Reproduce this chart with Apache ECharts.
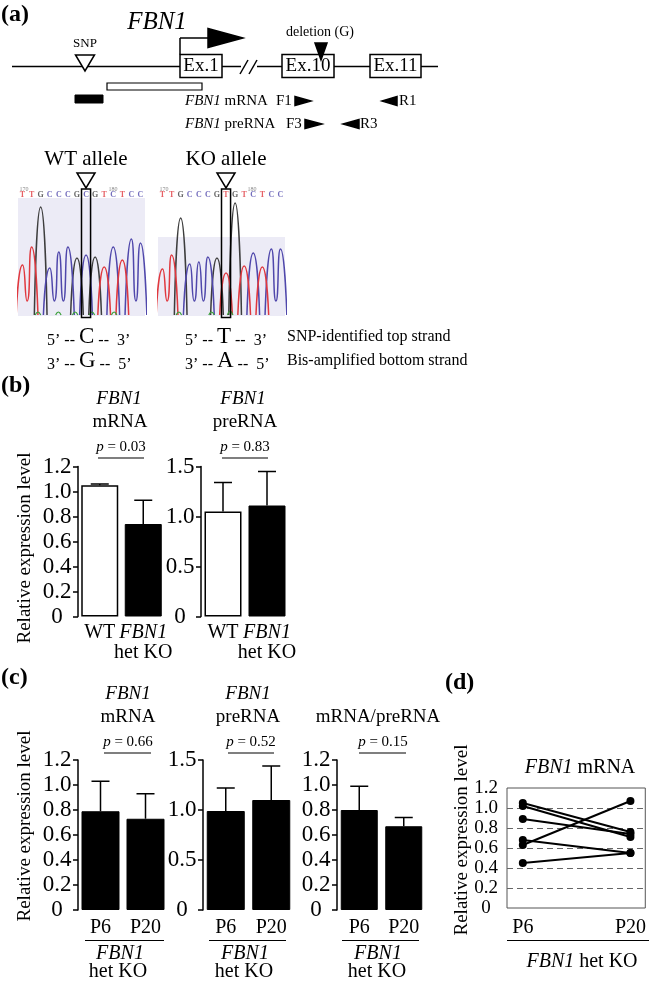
<!DOCTYPE html>
<html><head><meta charset="utf-8">
<script src="https://cdn.jsdelivr.net/npm/echarts@6.0.0/dist/echarts.min.js"></script>
<style>html,body{margin:0;padding:0;background:#fff;}#chart{width:649px;height:982px;}</style>
</head><body><div id="chart"></div>
<script>
const FONT = '"Liberation Serif","Times New Roman",serif';

// ---------- Panel (b) data ----------
const bCats = ['WT', 'FBN1 het KO'];
const bMrnaMean = [1.05, 0.74];
const bMrnaUpper = [1.06, 0.93];
const bPreMean = [1.05, 1.11];
const bPreUpper = [1.34, 1.45];
const bPValues = ['0.03', '0.83'];

// ---------- Panel (c) data ----------
const cCats = ['P6', 'P20'];
const cMrnaMean = [0.79, 0.73];
const cMrnaUpper = [1.03, 0.93];
const cPreMean = [0.99, 1.10];
const cPreUpper = [1.22, 1.44];
const cRatioMean = [0.80, 0.67];
const cRatioUpper = [0.99, 0.74];
const cPValues = ['0.66', '0.52', '0.15'];

// ---------- Panel (d) data ----------
const dCats = ['P6', 'P20'];
const dP6  = [1.05, 1.02, 0.89, 0.63, 0.68, 0.45];
const dP20 = [0.76, 0.71, 0.74, 1.07, 0.55, 0.55];

// ---------- Panel (a) chromatogram data (peak heights, relative units) ----------
const wtBases   = ['T','T','G','C','C','C','G','C','G','T','C','T','C','C'];
const wtHeights = [50, 68, 108, 47, 63, 68, 57, 60, 58, 48, 68, 55, 76, 72];
const wtBgTop = 117;
const wtNoise = [[1.7, 3], [3.95, 3], [5.8, 3], [7.65, 3], [10.1, 3]];
const koBases   = ['T','T','G','C','C','C','G','T','G','T','C','T','C','C'];
const koHeights = [46, 60, 97, 51, 53, 58, 57, 42, 112, 49, 62, 48, 66, 66];
const koBgTop = 78;
const koNoise = [[1.8, 3], [5.4, 3], [7.45, 4]];
const sameColorValley = 14;
const snpIndex = 7;

const BASE_COLORS = {T: '#e0383e', C: '#4f47ab', G: '#3d3d3d'};
const NOISE_COLOR = '#3aa03a';

const chart = echarts.init(document.getElementById('chart'), null, {renderer: 'canvas'});

// ---------- helpers ----------
function errRender(params, api) {
  const x = api.value(0), m = api.value(1), u = api.value(2);
  const p0 = api.coord([x, m]);
  const p1 = api.coord([x, u]);
  const st = {stroke: '#000', lineWidth: 1.5};
  return {type: 'group', children: [
    {type: 'line', shape: {x1: p0[0], y1: p0[1], x2: p1[0], y2: p1[1]}, style: st},
    {type: 'line', shape: {x1: p1[0] - 9, y1: p1[1], x2: p1[0] + 9, y2: p1[1]}, style: st}
  ]};
}
function errSeries(gi, mean, upper) {
  return {type: 'custom', xAxisIndex: gi, yAxisIndex: gi, renderItem: errRender, z: 5,
    data: mean.map((m, i) => [i, m, upper[i]]), encode: {x: 0, y: [1, 2]}};
}
function barSeries(gi, vals, white, bw) {
  return {type: 'bar', xAxisIndex: gi, yAxisIndex: gi, barWidth: bw,
    data: vals.map((v, i) => ({value: v, itemStyle: (white && i === 0)
      ? {color: '#fff', borderColor: '#000', borderWidth: 1.5}
      : {color: '#000', borderColor: '#000', borderWidth: 1}}))};
}
function yAx(gi, max, interval) {
  return {type: 'value', gridIndex: gi, min: 0, max: max, interval: interval,
    axisLine: {show: true, lineStyle: {color: '#000', width: 1.5}},
    axisTick: {show: true, length: 5, lineStyle: {color: '#000', width: 1.5}},
    splitLine: {show: false},
    axisLabel: {color: '#000', fontFamily: FONT, fontSize: 23, align: 'center', margin: 21,
      formatter: v => v === 0 ? '0' : v.toFixed(1)}};
}
function xCat(gi, cats, fmt, margin) {
  return {type: 'category', gridIndex: gi, data: cats,
    axisLine: {show: false}, axisTick: {show: false},
    axisLabel: {color: '#000', fontFamily: FONT, fontSize: 20, lineHeight: 20, margin: margin,
      verticalAlign: 'top', interval: 0, formatter: fmt,
      rich: {i: {fontFamily: FONT, fontStyle: 'italic', fontSize: 20, lineHeight: 20, color: '#000'}}}};
}
function traceSeries(gi, bases, heights, noise, bgTop) {
  const out = [];
  ['G', 'C', 'T'].forEach(b => {
    const data = [];
    bases.forEach((bb, i) => {
      if (bb !== b) return;
      if (bases[i - 1] !== b) data.push([i - 0.7, 0]);
      data.push([i, heights[i]]);
      if (bases[i + 1] === b) data.push([i + 0.5, sameColorValley]);
      else data.push([i + 0.7, 0], [i + 0.7, '-']);
    });
    out.push({type: 'line', xAxisIndex: gi, yAxisIndex: gi, data: data, smooth: 0.7,
      showSymbol: false, symbol: 'none', connectNulls: false, z: 3, silent: true,
      lineStyle: {color: BASE_COLORS[b], width: 1.5}});
  });
  const nd = [];
  noise.forEach(([p, h]) => nd.push([p - 0.3, 0], [p, h], [p + 0.3, 0], [p + 0.3, '-']));
  out.push({type: 'line', xAxisIndex: gi, yAxisIndex: gi, data: nd, smooth: 0.5, showSymbol: false,
    symbol: 'none', z: 3, silent: true, lineStyle: {color: NOISE_COLOR, width: 1.2}});
  // background
  out.push({type: 'custom', xAxisIndex: gi, yAxisIndex: gi, z: 1, silent: true,
    data: [[bgTop]],
    renderItem: (p, api) => {
      const a = api.coord([-0.5, -1]), c = api.coord([bases.length - 0.5, api.value(0)]);
      return {type: 'rect', shape: {x: a[0], y: c[1], width: c[0] - a[0], height: a[1] - c[1]},
        style: {fill: '#ecebf6'}};
    }});
  // SNP box
  out.push({type: 'custom', xAxisIndex: gi, yAxisIndex: gi, z: 6, silent: true,
    data: [[snpIndex]],
    renderItem: (p, api) => {
      const i = api.value(0);
      const a = api.coord([i - 0.5, -2.5]), c = api.coord([i + 0.5, 126]);
      return {type: 'rect', shape: {x: a[0], y: c[1], width: c[0] - a[0], height: a[1] - c[1]},
        style: {fill: 'none', stroke: '#000', lineWidth: 1.5}};
    }});
  // base letters
  out.push({type: 'scatter', xAxisIndex: gi, yAxisIndex: gi, symbolSize: 1, z: 4, silent: true,
    itemStyle: {color: 'rgba(0,0,0,0)'},
    data: bases.map((b, i) => ({value: [i, 120], label: {color: BASE_COLORS[b]}})),
    label: {show: true, position: 'inside', fontFamily: FONT, fontWeight: 'bold', fontSize: 8,
      formatter: p => bases[p.dataIndex]}});
  return out;
}

// ---------- graphic helpers ----------
const L = (x1, y1, x2, y2, w) => ({type: 'line', silent: true, shape: {x1, y1, x2, y2}, style: {stroke: '#000', lineWidth: w || 1.5}});
const TX = (x, y, text, size, opts) => ({type: 'text', silent: true, x: x, y: y,
  style: Object.assign({text: text, font: size + 'px ' + FONT, fill: '#000', align: 'center', verticalAlign: 'middle',
    rich: {i: {font: 'italic ' + size + 'px ' + FONT, fill: '#000'}}}, opts || {})});
const RT = (x, y, text, size) => ({type: 'text', silent: true, x: x, y: y, rotation: Math.PI / 2,
  style: {text: text, font: size + 'px ' + FONT, fill: '#000', align: 'center', verticalAlign: 'middle'}});
const PG = (pts, fill, stroke) => ({type: 'polygon', silent: true, shape: {points: pts},
  style: {fill: fill, stroke: stroke || fill, lineWidth: 1.5}});
const RC = (x, y, w, h, fill, lw) => ({type: 'rect', silent: true, shape: {x, y, width: w, height: h},
  style: {fill: fill, stroke: '#000', lineWidth: lw || 1.5}});

const strandRich = {
  n: {font: '16px ' + FONT, fill: '#000', verticalAlign: 'bottom', lineHeight: 23},
  b: {font: '23px ' + FONT, fill: '#000', verticalAlign: 'bottom', lineHeight: 23}
};
const ST = (x, y, text) => ({type: 'text', silent: true, x: x, y: y, style: {text: text, rich: strandRich, verticalAlign: 'middle'}});

const graphics = [
  // panel labels
  TX(1, 15, '(a)', 24, {align: 'left', font: 'bold 24px ' + FONT}),
  TX(1, 386, '(b)', 24, {align: 'left', font: 'bold 24px ' + FONT}),
  TX(1, 678, '(c)', 24, {align: 'left', font: 'bold 24px ' + FONT}),
  TX(445, 683, '(d)', 24, {align: 'left', font: 'bold 24px ' + FONT}),
  // gene diagram
  TX(157, 22, 'FBN1', 25, {font: 'italic 25px ' + FONT}),
  L(12, 66.5, 180, 66.5), L(222, 66.5, 241, 66.5), L(257, 66.5, 282, 66.5),
  L(334, 66.5, 370, 66.5), L(421, 66.5, 438, 66.5),
  L(240, 74, 248, 60), L(249, 74, 257, 60),
  RC(180, 54.5, 42, 23, '#fff'), RC(282, 54.5, 52, 23, '#fff'), RC(370, 54.5, 51, 23, '#fff'),
  TX(201, 66.5, 'Ex.1', 19), TX(308, 66.5, 'Ex.10', 19), TX(395.5, 66.5, 'Ex.11', 19),
  L(180, 54.5, 180, 38), L(180, 38, 210, 38),
  PG([[208, 28.5], [208, 47.5], [243, 38]], '#000'),
  PG([[75.5, 55], [94.5, 55], [85, 71]], '#fff', '#000'),
  TX(85, 44, 'SNP', 13),
  PG([[315, 43], [327, 43], [321, 60]], '#000'),
  TX(320, 32, 'deletion (G)', 14),
  RC(107, 83, 95, 7, '#fff', 1.2),
  RC(75, 95, 28, 8, '#000', 1),
  TX(185, 101, '{i|FBN1} mRNA', 15, {align: 'left'}),
  TX(276, 101, 'F1', 15, {align: 'left'}),
  PG([[295, 96.5], [295, 105.5], [311, 101]], '#000'),
  PG([[397, 96.5], [397, 105.5], [382, 101]], '#000'),
  TX(399, 101, 'R1', 15, {align: 'left'}),
  TX(185, 124, '{i|FBN1} preRNA', 15, {align: 'left'}),
  TX(286, 124, 'F3', 15, {align: 'left'}),
  PG([[305, 119.5], [305, 128.5], [322, 124]], '#000'),
  PG([[359, 119.5], [359, 128.5], [343, 124]], '#000'),
  TX(360, 124, 'R3', 15, {align: 'left'}),
  // chromatogram headers
  TX(86, 159, 'WT allele', 21), TX(226, 159, 'KO allele', 21),
  PG([[77, 173], [95, 173], [86, 188]], '#fff', '#000'),
  PG([[217, 173], [235, 173], [226, 188]], '#fff', '#000'),
  TX(24, 189, '170', 6, {fill: '#888'}), TX(113, 189, '180', 6, {fill: '#888'}),
  TX(164, 189, '170', 6, {fill: '#888'}), TX(252, 189, '180', 6, {fill: '#888'}),
  // strand text
  ST(47, 337, '{n|5’ -- }{b|C}{n| --  3’}'),
  ST(47, 361, '{n|3’ -- }{b|G}{n| --  5’}'),
  ST(185, 337, '{n|5’ -- }{b|T}{n| --  3’}'),
  ST(185, 361, '{n|3’ -- }{b|A}{n| --  5’}'),
  TX(287, 337, 'SNP-identified top strand', 16, {align: 'left'}),
  TX(287, 361, 'Bis-amplified bottom strand', 16, {align: 'left'}),
  // y-axis names
  RT(25, 548, 'Relative expression level', 19),
  RT(25, 826, 'Relative expression level', 19),
  RT(462, 840, 'Relative expression level', 19),
  // panel (b) titles
  TX(119, 399, 'FBN1', 19, {font: 'italic 19px ' + FONT}), TX(120, 422, 'mRNA', 19),
  TX(121, 447, '{i|p} = ' + bPValues[0], 15), L(98, 458, 144, 458, 1.2),
  TX(243, 399, 'FBN1', 19, {font: 'italic 19px ' + FONT}), TX(245, 422, 'preRNA', 19),
  TX(245, 447, '{i|p} = ' + bPValues[1], 15), L(222, 458, 268, 458, 1.2),
  // panel (c) titles
  TX(128, 694, 'FBN1', 19, {font: 'italic 19px ' + FONT}), TX(128, 717, 'mRNA', 19),
  TX(128, 742, '{i|p} = ' + cPValues[0], 15), L(104, 753, 151, 753, 1.2),
  TX(248, 694, 'FBN1', 19, {font: 'italic 19px ' + FONT}), TX(248, 717, 'preRNA', 19),
  TX(251, 742, '{i|p} = ' + cPValues[1], 15), L(228, 753, 274, 753, 1.2),
  TX(378, 717, 'mRNA/preRNA', 19),
  TX(383, 742, '{i|p} = ' + cPValues[2], 15), L(359, 753, 406, 753, 1.2),
  // panel (c) group labels
  L(85, 940.5, 164, 940.5, 1.2), L(209, 940.5, 286, 940.5, 1.2), L(342, 940.5, 419, 940.5, 1.2),
  TX(120, 954, 'FBN1', 20, {font: 'italic 20px ' + FONT}), TX(118, 972, 'het KO', 20),
  TX(245, 954, 'FBN1', 20, {font: 'italic 20px ' + FONT}), TX(244, 972, 'het KO', 20),
  TX(378, 954, 'FBN1', 20, {font: 'italic 20px ' + FONT}), TX(377, 972, 'het KO', 20),
  // panel (d)
  TX(580, 768, '{i|FBN1} mRNA', 20),
  L(507, 940.5, 649, 940.5, 1.2),
  TX(582, 962, '{i|FBN1} het KO', 20)
];

const bFmt = v => v === 'WT' ? 'WT' : '{i|FBN1}\nhet KO';

const option = {
  animation: false,
  grid: [
    {left: 78, top: 466.5, width: 87, height: 150},   // 0 b mRNA
    {left: 201, top: 466.5, width: 88, height: 150},  // 1 b preRNA
    {left: 78, top: 760, width: 90, height: 150},     // 2 c mRNA
    {left: 203, top: 760, width: 91, height: 150},    // 3 c preRNA
    {left: 337, top: 760, width: 89, height: 150},    // 4 c ratio
    {left: 507, top: 788, width: 141, height: 120, show: true, borderColor: '#555', borderWidth: 1, backgroundColor: 'transparent'}, // 5 d
    {left: 18, top: 188, width: 127, height: 130},    // 6 WT chrom
    {left: 158, top: 188, width: 127, height: 130}    // 7 KO chrom
  ],
  xAxis: [
    xCat(0, bCats, bFmt, 6), xCat(1, bCats, bFmt, 6),
    xCat(2, cCats, null, 8), xCat(3, cCats, null, 8), xCat(4, cCats, null, 8),
    {type: 'value', gridIndex: 5, min: -0.147, max: 1.138,
      axisLine: {show: false}, axisTick: {show: false}, splitLine: {show: false},
      axisLabel: {customValues: [0, 1], formatter: v => dCats[Math.round(v)], color: '#000',
        fontFamily: FONT, fontSize: 20, margin: 10, verticalAlign: 'top'}},
    {type: 'value', gridIndex: 6, min: -0.5, max: wtBases.length - 0.5, show: false},
    {type: 'value', gridIndex: 7, min: -0.5, max: koBases.length - 0.5, show: false}
  ],
  yAxis: [
    yAx(0, 1.2, 0.2),
    yAx(1, 1.5, 0.5),
    yAx(2, 1.2, 0.2),
    yAx(3, 1.5, 0.5),
    yAx(4, 1.2, 0.2),
    {type: 'value', gridIndex: 5, min: 0, max: 1.2, interval: 0.2,
      axisLine: {show: false}, axisTick: {show: false},
      splitLine: {show: true, showMinLine: false, showMaxLine: false, lineStyle: {color: '#666', type: [6, 4], width: 1}},
      axisLabel: {color: '#000', fontFamily: FONT, fontSize: 19, align: 'center', margin: 21,
        formatter: v => v === 0 ? '0' : v.toFixed(1)}},
    {type: 'value', gridIndex: 6, min: -3, max: 127, show: false},
    {type: 'value', gridIndex: 7, min: -3, max: 127, show: false}
  ],
  series: [
    barSeries(0, bMrnaMean, true, 37), errSeries(0, bMrnaMean, bMrnaUpper),
    barSeries(1, bPreMean, true, 37), errSeries(1, bPreMean, bPreUpper),
    barSeries(2, cMrnaMean, false, 38), errSeries(2, cMrnaMean, cMrnaUpper),
    barSeries(3, cPreMean, false, 38), errSeries(3, cPreMean, cPreUpper),
    barSeries(4, cRatioMean, false, 37), errSeries(4, cRatioMean, cRatioUpper),
    ...dP6.map((v, i) => ({type: 'line', xAxisIndex: 5, yAxisIndex: 5, z: 4,
      data: [[0, v], [1, dP20[i]]], symbol: 'circle', symbolSize: 8,
      itemStyle: {color: '#000'}, lineStyle: {color: '#000', width: 2}})),
    ...traceSeries(6, wtBases, wtHeights, wtNoise, wtBgTop),
    ...traceSeries(7, koBases, koHeights, koNoise, koBgTop)
  ],
  graphic: graphics
};
chart.setOption(option);
</script></body></html>
